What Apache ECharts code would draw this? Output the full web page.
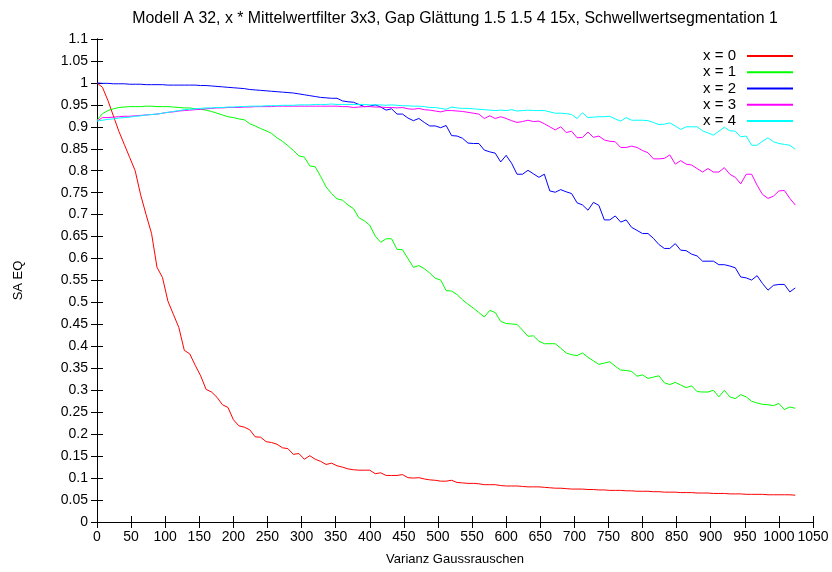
<!DOCTYPE html>
<html>
<head>
<meta charset="utf-8">
<script src="https://cdn.jsdelivr.net/npm/echarts@6/dist/echarts.min.js"></script>
<style>html,body{margin:0;padding:0;background:#fff}#c{width:832px;height:572px}</style>
</head>
<body>
<div id="c"></div>
<script>
var xs = [0,8,16,24,32,40,48,56,64,72,80,88,96,104,112,120,
128,136,144,152,160,168,176,184,192,200,208,216,224,232,240,248,
256,264,272,280,288,296,304,312,320,328,336,344,352,360,368,376,
384,392,400,408,416,424,432,440,448,456,464,472,480,488,496,504,
512,520,528,536,544,552,560,568,576,584,592,600,608,616,624,632,
640,648,656,664,672,680,688,696,704,712,720,728,736,744,752,760,
768,776,784,792,800,808,816,824,832,840,848,856,864,872,880,888,
896,904,912,920,928,936,944,952,960,968,976,984,992,1000,1008,1016,
1024];

var x0 = [1.0,0.99,0.96,0.925,0.89,0.86,0.83,0.80,0.745,0.70,0.657,0.58,0.557,0.503,0.473,0.443,
0.391,0.383,0.357,0.333,0.302,0.296,0.284,0.267,0.261,0.233,0.219,0.216,0.21,0.194,0.193,0.183,
0.181,0.177,0.169,0.167,0.154,0.156,0.143,0.151,0.143,0.138,0.131,0.134,0.128,0.125,0.121,0.119,
0.118,0.118,0.118,0.110,0.112,0.106,0.106,0.106,0.108,0.101,0.100,0.101,0.098,0.096,0.095,0.093,
0.093,0.095,0.090,0.089,0.088,0.088,0.087,0.085,0.085,0.085,0.083,0.082,0.082,0.082,0.081,0.080,
0.080,0.080,0.079,0.078,0.077,0.077,0.076,0.075,0.075,0.075,0.074,0.074,0.073,0.073,0.072,0.072,
0.072,0.071,0.071,0.070,0.070,0.070,0.069,0.069,0.068,0.068,0.068,0.067,0.067,0.067,0.066,0.066,
0.066,0.065,0.065,0.065,0.064,0.064,0.064,0.063,0.063,0.063,0.063,0.062,0.062,0.062,0.062,0.062,
0.061];

var x1 = [0.915,0.930,0.937,0.941,0.944,0.945,0.946,0.946,0.946,0.947,0.947,0.946,0.946,0.946,0.945,0.944,
0.943,0.943,0.941,0.940,0.938,0.935,0.931,0.927,0.923,0.921,0.918,0.916,0.907,0.902,0.896,0.891,
0.885,0.875,0.867,0.857,0.846,0.834,0.831,0.811,0.809,0.787,0.763,0.748,0.736,0.733,0.722,0.714,
0.693,0.686,0.676,0.651,0.637,0.645,0.645,0.621,0.620,0.600,0.580,0.584,0.577,0.567,0.555,0.551,
0.527,0.526,0.518,0.506,0.496,0.487,0.477,0.467,0.482,0.477,0.457,0.452,0.451,0.450,0.437,0.423,
0.424,0.412,0.406,0.406,0.406,0.396,0.385,0.381,0.379,0.385,0.375,0.367,0.359,0.362,0.365,0.355,
0.346,0.345,0.343,0.332,0.335,0.327,0.330,0.333,0.317,0.313,0.318,0.312,0.306,0.310,0.297,0.296,
0.296,0.300,0.285,0.300,0.285,0.281,0.290,0.285,0.275,0.271,0.268,0.267,0.265,0.270,0.256,0.262,
0.259];

var x2 = [1.0,0.999,0.999,0.998,0.998,0.998,0.997,0.997,0.997,0.996,0.996,0.996,0.996,0.995,0.995,0.995,
0.995,0.995,0.995,0.994,0.994,0.993,0.992,0.991,0.990,0.989,0.988,0.987,0.985,0.984,0.983,0.982,
0.981,0.980,0.979,0.978,0.977,0.975,0.973,0.971,0.969,0.967,0.966,0.965,0.965,0.959,0.957,0.956,
0.951,0.946,0.947,0.950,0.945,0.938,0.941,0.929,0.929,0.920,0.914,0.919,0.910,0.902,0.902,0.898,
0.903,0.880,0.879,0.874,0.863,0.862,0.862,0.847,0.843,0.840,0.820,0.835,0.817,0.792,0.792,0.801,
0.793,0.785,0.792,0.754,0.751,0.757,0.752,0.748,0.727,0.722,0.710,0.728,0.721,0.688,0.688,0.697,
0.683,0.688,0.671,0.664,0.657,0.657,0.646,0.632,0.623,0.623,0.634,0.619,0.618,0.610,0.606,0.594,
0.594,0.594,0.586,0.586,0.583,0.579,0.558,0.556,0.551,0.561,0.543,0.528,0.539,0.541,0.541,0.524,
0.533];

var x3 = [0.913,0.921,0.921,0.922,0.923,0.924,0.924,0.925,0.926,0.927,0.928,0.929,0.931,0.933,0.934,0.936,
0.937,0.938,0.939,0.940,0.941,0.942,0.943,0.943,0.944,0.944,0.944,0.945,0.945,0.946,0.946,0.946,
0.946,0.947,0.947,0.947,0.947,0.947,0.947,0.947,0.947,0.947,0.947,0.947,0.947,0.946,0.946,0.944,
0.945,0.946,0.946,0.945,0.945,0.944,0.944,0.943,0.944,0.941,0.940,0.942,0.939,0.938,0.936,0.934,
0.937,0.937,0.936,0.935,0.933,0.931,0.929,0.919,0.925,0.919,0.923,0.919,0.914,0.910,0.912,0.915,
0.912,0.913,0.907,0.900,0.893,0.900,0.887,0.890,0.875,0.876,0.888,0.876,0.879,0.870,0.867,0.866,
0.853,0.853,0.856,0.853,0.846,0.841,0.827,0.827,0.828,0.836,0.815,0.823,0.815,0.813,0.805,0.797,
0.805,0.797,0.797,0.807,0.792,0.785,0.770,0.792,0.792,0.767,0.746,0.737,0.742,0.754,0.755,0.737,
0.722];

var x4 = [0.913,0.915,0.917,0.918,0.920,0.921,0.922,0.924,0.925,0.927,0.928,0.929,0.931,0.933,0.935,0.937,
0.939,0.940,0.941,0.942,0.943,0.943,0.944,0.944,0.945,0.945,0.946,0.946,0.947,0.947,0.947,0.948,
0.948,0.948,0.949,0.949,0.949,0.950,0.950,0.950,0.951,0.951,0.951,0.952,0.951,0.951,0.951,0.951,
0.951,0.951,0.950,0.950,0.950,0.949,0.950,0.949,0.948,0.948,0.947,0.947,0.946,0.944,0.944,0.942,
0.940,0.945,0.943,0.942,0.942,0.941,0.940,0.939,0.938,0.937,0.938,0.937,0.939,0.936,0.937,0.938,
0.937,0.937,0.937,0.934,0.931,0.931,0.930,0.928,0.919,0.932,0.921,0.922,0.923,0.923,0.924,0.918,
0.913,0.921,0.915,0.915,0.915,0.914,0.910,0.905,0.906,0.909,0.902,0.894,0.900,0.900,0.900,0.891,
0.886,0.881,0.890,0.899,0.891,0.890,0.877,0.879,0.858,0.858,0.867,0.875,0.866,0.862,0.860,0.858,
0.849];

var seriesNames = ['x = 0','x = 1','x = 2','x = 3','x = 4'];
var seriesColors = ['#ff0000','#00ff00','#0000ff','#ff00ff','#00ffff'];
var seriesValues = [x0, x1, x2, x3, x4];

var titleText = 'Modell A 32, x * Mittelwertfilter 3x3, Gap Glättung 1.5 1.5 4 15x, Schwellwertsegmentation 1';
var xName = 'Varianz Gaussrauschen';
var yName = 'SA EQ';

var FONT = 'Liberation Sans, Arial, sans-serif';

function pairs(vals){ return xs.map(function(x,i){ return [x, vals[i]]; }); }

var chart = echarts.init(document.getElementById('c'), null, {renderer:'canvas'});

var axisCommon = {
  axisLine:{show:true, lineStyle:{color:'#000', width:1}},
  axisTick:{show:true, inside:true, length:6, lineStyle:{color:'#000', width:1}},
  splitLine:{show:false}
};

var option = {
  animation:false,
  backgroundColor:'#fff',
  title:{
    text:titleText, left:450, top:6, textAlign:'center',
    textStyle:{fontFamily:FONT, fontSize:15.9, fontWeight:'normal', color:'#000'}
  },
  legend:{
    orient:'vertical', right:34, top:43, align:'right',
    itemWidth:46, itemHeight:2, itemGap:0, icon:'rect',
    textStyle:{fontFamily:FONT, fontSize:15, color:'#000', lineHeight:16.2, padding:[0,6,0,0]},
    data:seriesNames
  },
  grid:{left:97, right:19, top:39, bottom:50, containLabel:false},
  xAxis:[
    Object.assign({
      type:'value', min:0, max:1050, interval:50, position:'bottom',
      name:xName, nameLocation:'middle', nameGap:31,
      nameTextStyle:{fontFamily:FONT, fontSize:13, color:'#000'},
      axisLabel:{fontFamily:FONT, fontSize:14, color:'#000', margin:8,
        showMinLabel:true, showMaxLabel:true, hideOverlap:false,
        formatter:function(v){ return String(v); }}
    }, axisCommon),
    Object.assign({
      type:'value', min:0, max:1050, interval:50, position:'top',
      axisLabel:{show:false}
    }, axisCommon)
  ],
  yAxis:[
    Object.assign({
      type:'value', min:0, max:1.1, interval:0.05, position:'left',
      name:yName, nameLocation:'middle', nameGap:72, nameRotate:90,
      nameTextStyle:{fontFamily:FONT, fontSize:13, color:'#000'},
      axisLabel:{fontFamily:FONT, fontSize:14, color:'#000', margin:9,
        formatter:function(v){ return String(+v.toFixed(2)); }}
    }, axisCommon),
    Object.assign({
      type:'value', min:0, max:1.1, interval:0.05, position:'right',
      axisLabel:{show:false}
    }, axisCommon)
  ],
  series: seriesNames.map(function(n,i){
    return {
      name:n, type:'line', xAxisIndex:0, yAxisIndex:0,
      data:pairs(seriesValues[i]), showSymbol:false, symbol:'none',
      lineStyle:{color:seriesColors[i], width:1}, itemStyle:{color:seriesColors[i]},
      emphasis:{disabled:true}
    };
  })
};
chart.setOption(option);
</script>
</body>
</html>
